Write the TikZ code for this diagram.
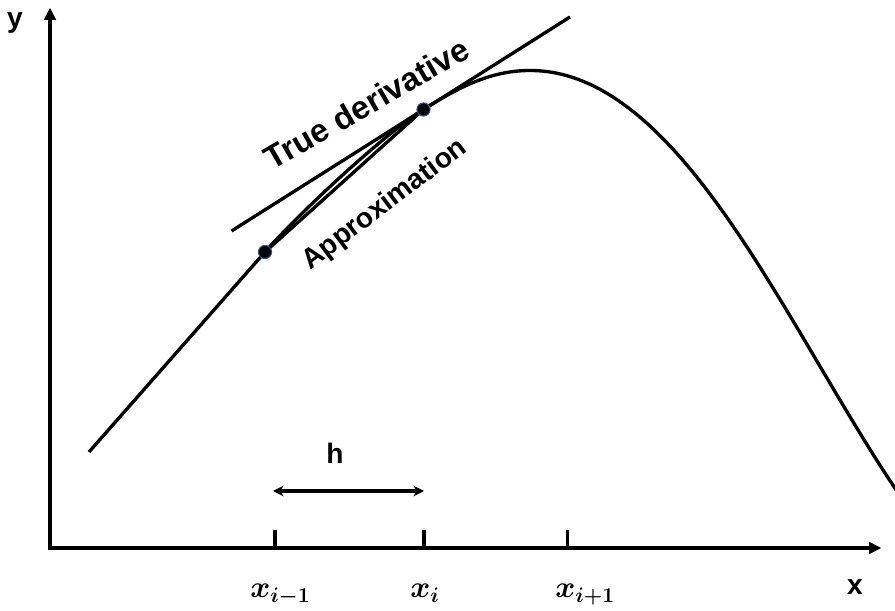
\documentclass[tikz,border=0pt]{standalone}
\usepackage{amsmath,amssymb}
\usepackage{fontspec}
\setmainfont{Liberation Sans}
\usetikzlibrary{positioning,arrows.meta,calc}
\definecolor{dotrim}{RGB}{47,85,151}

\begin{document}
\begin{tikzpicture}[
  every node/.style={font=\bfseries\fontsize{16}{18}\selectfont},
  axis/.style={line width=1.9pt,line cap=rect,-{Triangle[length=7pt,width=6.5pt]}},
  curve/.style={line width=1.9pt},
  tickmark/.style={line width=1.9pt},
  dotmark/.style={circle,fill=black,draw=dotrim,line width=0.6pt,inner sep=0pt,minimum size=7.5pt},
  mlbl/.style={font=\fontsize{17}{19}\selectfont\boldmath,anchor=base west,inner sep=0pt},
  >={Stealth[length=6pt,width=6pt]} ]
  \useasboundingbox (-1,-1.26) rectangle (16.9,10.96);

  % axes
  \coordinate (o) at (0,0);
  \coordinate (ytop) at (0,10.81);
  \coordinate (xend) at (16.63,0);
  \draw[axis] (o) -- (ytop);
  \draw[axis] (o) -- (xend);
  \node (ylbl) at (-0.7,10.5) {y};
  \node (xlbl) at (16.1,-0.78) {x};

  \foreach \t/\xx in {a/4.5,b/7.48,c/10.35}{
    \coordinate (t\t) at (\xx,0);
    \draw[tickmark] (t\t) -- ++(0,0.36);
  }
  \node[mlbl] (lxa) at (4.0,-1.0) {$x_{i-1}$};
  \node[mlbl] (lxb) at (7.2,-1.0) {$x_i$};
  \node[mlbl] (lxc) at (10.1,-1.0) {$x_{i+1}$};

  % step h
  \coordinate (hl) at (4.46,1.14);
  \coordinate (hr) at (7.48,1.14);
  \draw[<->,line width=1.9pt] (hl) -- (hr);
  \node (hlbl) at (5.7,1.9) {h};

  % the function
  \coordinate (s) at (0.78,1.92);
  \coordinate (ca) at (4.3,5.92);
  \coordinate (cb) at (7.47,8.77);
  \coordinate (pk) at (9.6,9.55);
  \coordinate (e) at (16.95,1.12);
  \draw[curve] (s) -- (ca) .. controls +(48.7:1) and +(212.3:1) .. (cb)
    .. controls +(32.3:0.8) and +(-0.8,0) .. (pk)
    .. controls +(3,0) and +(124:4) .. (e);

  % tangent and chord
  \coordinate (tl) at (3.63,6.34);
  \coordinate (tr) at (10.4,10.62);
  \draw[curve] (tl) -- (tr);
  \draw[curve] (ca) -- (cb);
  \node[dotmark] (pa) at (ca) {};
  \node[dotmark] (pb) at (cb) {};

  \node[rotate=30,font=\bfseries\fontsize{18.5}{20}\selectfont] (tdlbl) at (6.33,8.89) {True derivative};
  \node[rotate=37] (aplbl) at (6.7,6.86) {Approximation};
\end{tikzpicture}
\end{document}
